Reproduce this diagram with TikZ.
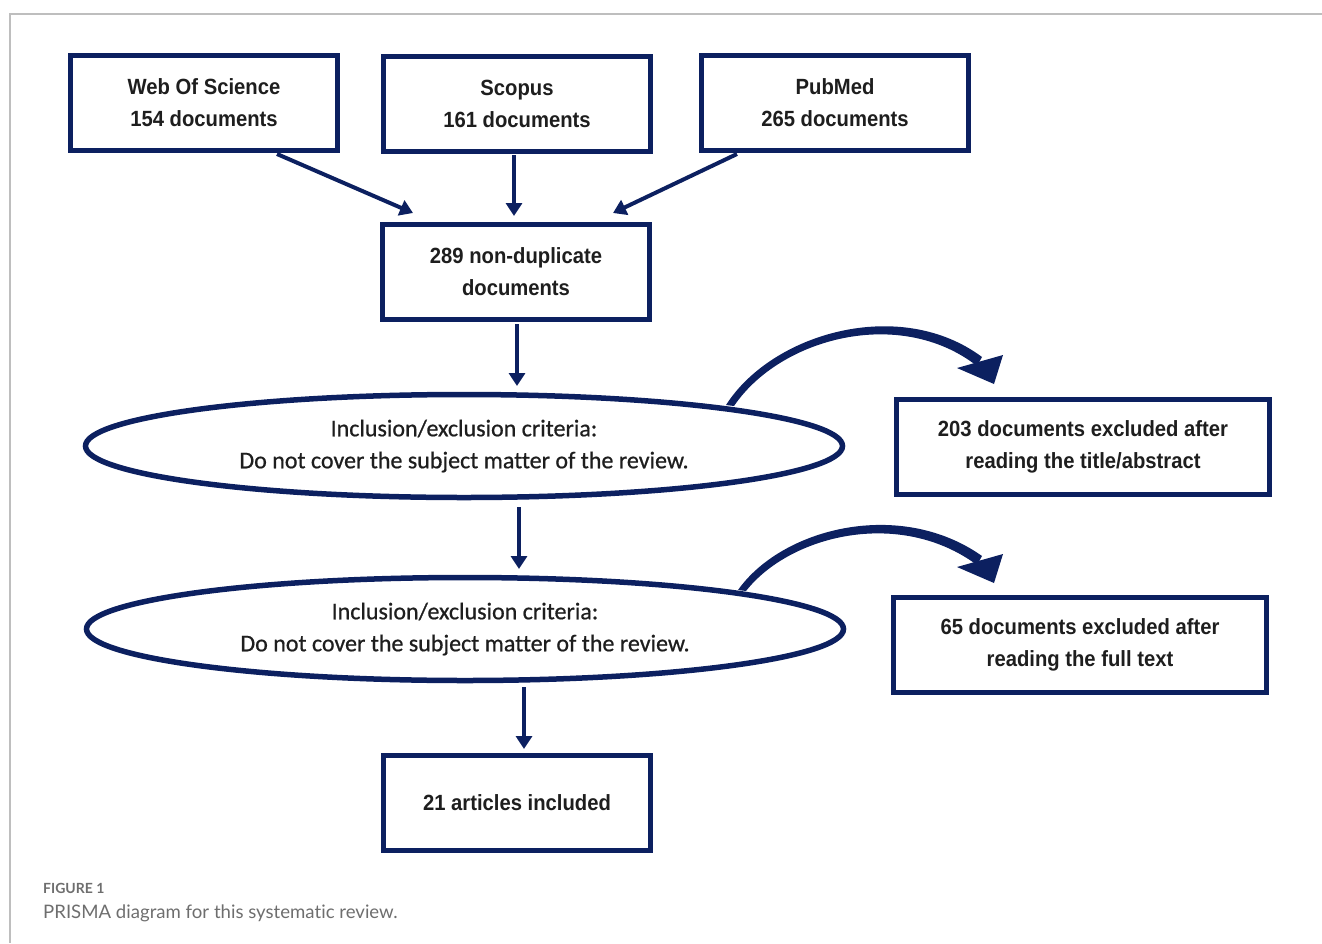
\documentclass[tikz,border=0pt]{standalone}
\usepackage{fontspec}
\setmainfont{Liberation Sans}
\newfontfamily\boxfont[FakeStretch=0.92]{Liberation Sans}
\newfontfamily\ellfont[FakeBold=0.7,Ligatures=NoCommon]{Carlito}
\newfontfamily\capfont[Ligatures=NoCommon]{Lato}
\usetikzlibrary{shapes.geometric,arrows.meta}
\definecolor{navy}{RGB}{12,32,96}
\definecolor{txt}{RGB}{30,30,30}
\definecolor{framegray}{RGB}{190,190,190}
\definecolor{capgray}{RGB}{110,110,110}
\tikzset{
  docbox/.style={draw=navy, line width=5pt, fill=white, minimum width=267pt, minimum height=95pt,
    align=center, text=txt, font=\boxfont\bfseries\fontsize{22}{32}\selectfont, inner sep=0pt},
  exbox/.style={docbox, minimum width=373pt},
  crit/.style={draw=navy, line width=5.5pt, ellipse, minimum width=757pt, minimum height=103pt,
    inner sep=0pt, align=center, text=txt, font=\ellfont\fontsize{24}{32}\selectfont},
  flow/.style={draw=navy, line width=4pt, -{Triangle[length=13pt,width=16pt]}},
  curvearrow/.style={fill=navy, draw=none}
}
\begin{document}
\begin{tikzpicture}[x=1pt,y=-1pt]
\useasboundingbox (0,0) rectangle (1322,943);
\draw[framegray, line width=1.2pt] (1322,14) -- (10,14) -- (10,943);

\node[docbox] (wos) at (204,103) {Web Of Science\\154 documents};
\node[docbox] (scopus) at (517,104) {Scopus\\161 documents};
\node[docbox] (pubmed) at (835,103) {PubMed\\265 documents};
\node[docbox] (nodup) at (516,272) {289 non-duplicate\\documents};
\node[crit] (crit1) at (464,446) {Inclusion/exclusion criteria:\\Do not cover the subject matter of the review.};
\node[exbox] (ex1) at (1083,447) {203 documents excluded after\\reading the title/abstract};
\node[crit] (crit2) at (465,629) {Inclusion/exclusion criteria:\\Do not cover the subject matter of the review.};
\node[exbox] (ex2) at (1080,645) {65 documents excluded after\\reading the full text};
\node[docbox] (incl) at (517,803) {21 articles included};

\coordinate (wosout) at (277,154);
\coordinate (scoout) at (514,155);
\coordinate (pubout) at (737,154);
\coordinate (in1) at (413,213);
\coordinate (in2) at (514,216);
\coordinate (in3) at (613,213);
\coordinate (nodupout) at (517,324);
\coordinate (crit1in) at (517,386);
\coordinate (crit1out) at (519,507);
\coordinate (crit2in) at (519,569);
\coordinate (crit2out) at (524,687);
\coordinate (inclin) at (524,749);
\draw[flow] (wosout) -- (in1);
\draw[flow] (scoout) -- (in2);
\draw[flow] (pubout) -- (in3);
\draw[flow] (nodupout) -- (crit1in);
\draw[flow] (crit1out) -- (crit2in);
\draw[flow] (crit2out) -- (inclin);

% curved exclusion arrows
\coordinate (s1) at (726,405);
\fill[curvearrow] (s1) .. controls (772,333) and (900,296) .. (982,357)
  -- (977,366) .. controls (900,306) and (780,338) .. (734,406) -- cycle;
\fill[curvearrow] (957,368) -- (1003,355) -- (994,384) -- cycle;

\coordinate (s2) at (738,590);
\fill[curvearrow] (s2) .. controls (782,528) and (900,498) .. (982,556)
  -- (977,565) .. controls (900,508) and (790,535) .. (746,591) -- cycle;
\fill[curvearrow] (957,567) -- (1003,554) -- (994,583) -- cycle;

\node[anchor=base west, text=capgray, font=\capfont\bfseries\fontsize{14}{16}\selectfont, inner sep=0pt] (figlabel) at (43,893) {FIGURE 1};
\node[anchor=base west, text=capgray, font=\capfont\fontsize{18.6}{20}\selectfont, inner sep=0pt] (caption) at (43,918) {PRISMA diagram for this systematic review.};
\end{tikzpicture}
\end{document}
